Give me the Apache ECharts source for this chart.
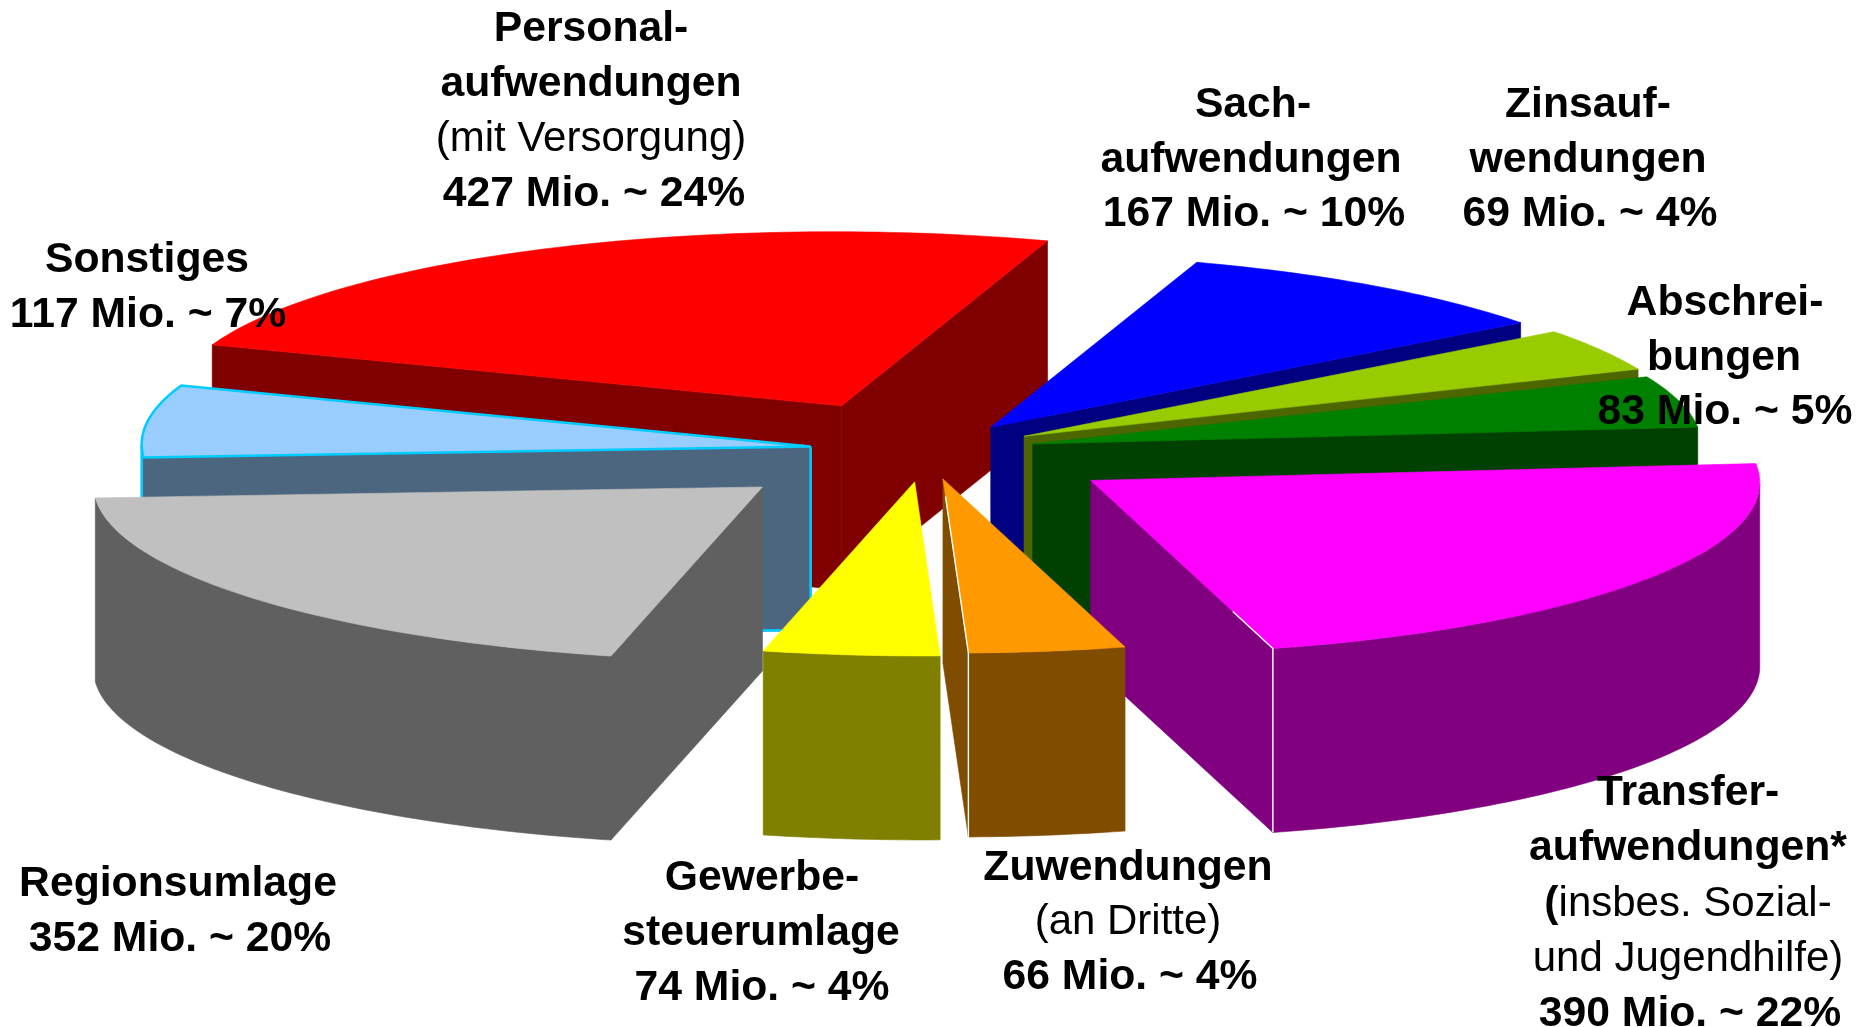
<!DOCTYPE html>
<html><head><meta charset="utf-8">
<style>html,body{margin:0;padding:0;background:#fff}#c{width:1860px;height:1027px}</style>
<script src="https://cdn.jsdelivr.net/npm/echarts@6/dist/echarts.min.js"></script>
</head><body><div id="c"></div>
<script>
// Data: clockwise from the start of "Sachaufwendungen"
const categories = ['Sachaufwendungen','Zinsaufwendungen','Abschreibungen','Transferaufwendungen','Zuwendungen','Gewerbesteuerumlage','Regionsumlage','Sonstiges','Personalaufwendungen'];
const values = [167,69,83,390,66,74,352,117,427];
const explode = [0.168,0.17,0.165,0.297,0.162,0.178,0.322,0.174,0.287];
const topColors = ['#0000FF','#99CC00','#008000','#FF00FF','#FF9900','#FFFF00','#C0C0C0','#99CCFF','#FF0000'];
const wallColors = ['#000080','#4D6600','#004000','#800080','#804C00','#808000','#606060','#4D6680','#800000'];
const drawOrder = [8,0,1,2,7,3,6,5,4];
const outlineColors = {7:'#00CCFF'};
const accentEdge = {3:0.22,4:0.9};

// Label text: [text or rich runs, centre x, centre y]
const labels = [
 ['{b|Personal-}',591,29],['{b|aufwendungen}',591,84],['{r|(mit Versorgung)}',591,139],['{b|427 Mio. ~ 24%}',594,194],
 ['{b|Sach-}',1253,105],['{b|aufwendungen}',1251,160],['{b|167 Mio. ~ 10%}',1254,214],
 ['{b|Zinsauf-}',1588,105],['{b|wendungen}',1588,160],['{b|69 Mio. ~ 4%}',1590,214],
 ['{b|Abschrei-}',1725,303],['{b|bungen}',1724,358],['{b|83 Mio. ~ 5%}',1725,412],
 ['{b|Transfer-}',1688,793],['{b|aufwendungen*}',1688,848],['{b|(}{r|insbes. Sozial-}',1688,904],['{r|und Jugendhilfe)}',1688,959],['{b|390 Mio. ~ 22%}',1690,1014],
 ['{b|Zuwendungen}',1128,868],['{r|(an Dritte)}',1128,922],['{b|66 Mio. ~ 4%}',1130,977],
 ['{b|Gewerbe-}',762,878],['{b|steuerumlage}',761,933],['{b|74 Mio. ~ 4%}',762,988],
 ['{b|Regionsumlage}',178,884],['{b|352 Mio. ~ 20%}',180,939],
 ['{b|Sonstiges}',147,260],['{b|117 Mio. ~ 7%}',148,315]
];

// Projection of the pie's top plane and extrusion
const centre = [926,451], axisC = [206,-165], axisS = [636.5,55.6], depth = 184;
const total = values.reduce((a,b)=>a+b,0);
const starts = []; values.reduce((acc,v,i)=>{starts[i]=acc;return acc+v;},0);
const proj = (a,r)=>[axisC[0]*Math.cos(a)*r+axisS[0]*Math.sin(a)*r, axisC[1]*Math.cos(a)*r+axisS[1]*Math.sin(a)*r];

function renderSlice(params, api){
  const i = api.value(0);
  const a0 = starts[i]/total*2*Math.PI, a1 = (starts[i]+values[i])/total*2*Math.PI;
  const m = proj((a0+a1)/2, explode[i]);
  const apex = [centre[0]+m[0], centre[1]+m[1]];
  const n = Math.max(8, Math.ceil((a1-a0)/0.02));
  const ring = [apex];
  for(let k=0;k<=n;k++){
    const p = proj(a0+(a1-a0)*k/n,1);
    ring.push([apex[0]+p[0],apex[1]+p[1]]);
  }
  const children = [];
  const stroke = outlineColors[i];
  const wall = wallColors[i];
  // walls: only the edges running leftwards face the viewer; join runs into one polygon
  let run = null;
  const flush = ()=>{
    if(run && run.length>1){
      const pts = run.concat(run.slice().reverse().map(p=>[p[0],p[1]+depth]));
      children.push({type:'polygon',shape:{points:pts},style:{fill:wall,stroke:wall,lineWidth:0.6}});
    }
    run = null;
  };
  // start at the apex's neighbour so the arc run is not split across the ring's wrap
  for(let k=0;k<ring.length;k++){
    const A = ring[k], B = ring[(k+1)%ring.length];
    const isRadial = (k===0)||(k===ring.length-1);
    if(B[0] < A[0]){
      if(isRadial){ flush(); run=[A,B]; flush(); }
      else { if(!run) run=[A]; run.push(B); }
    } else flush();
  }
  flush();
  if(stroke){
    const left = ring.reduce((q,p)=>p[0]<q[0]?p:q,ring[0]), right = ring.reduce((q,p)=>p[0]>q[0]?p:q,ring[0]);
    children.push({type:'polyline',shape:{points:[[left[0],left[1]],[left[0],left[1]+depth]]},style:{stroke,lineWidth:2.5,fill:null}});
    children.push({type:'polyline',shape:{points:[[right[0],right[1]],[right[0],right[1]+depth],[left[0],left[1]+depth]]},style:{stroke,lineWidth:2.5,fill:null}});
  }
  children.push({type:'polygon',shape:{points:ring},style:{fill:topColors[i],stroke:stroke||topColors[i],lineWidth:stroke?2.5:0.6}});
  if(accentEdge[i]){
    const e = ring[ring.length-1], f = accentEdge[i];
    const s = [e[0]+(apex[0]-e[0])*f, e[1]+(apex[1]-e[1])*f];
    children.push({type:'polyline',shape:{points:[s,e,[e[0],e[1]+depth]]},style:{stroke:'#FFFFFF',lineWidth:1.4,fill:null}});
  }
  return {type:'group',children:children.map(c=>Object.assign(c,{silent:true}))};
}

function renderLabel(params, api){
  const l = labels[api.value(0)];
  return {type:'text',silent:true,x:l[1],y:l[2],style:{
    text:l[0],align:'center',verticalAlign:'middle',
    rich:{
      b:{fontFamily:'Liberation Sans',fontWeight:'bold',fontSize:42.7,fill:'#000',color:'#000'},
      r:{fontFamily:'Liberation Sans',fontWeight:'normal',fontSize:42,fill:'#000',color:'#000'}
    }
  }};
}

const chart = echarts.init(document.getElementById('c'),null,{renderer:'canvas'});
chart.setOption({
  animation:false,
  backgroundColor:'#fff',
  series:[
    {type:'custom',coordinateSystem:'none',renderItem:renderSlice,z:2,silent:true,
     data:drawOrder.map(i=>({name:categories[i],value:[i,values[i]]}))},
    {type:'custom',coordinateSystem:'none',renderItem:renderLabel,z:5,silent:true,
     data:labels.map((l,i)=>[i])}
  ]
});
</script></body></html>
